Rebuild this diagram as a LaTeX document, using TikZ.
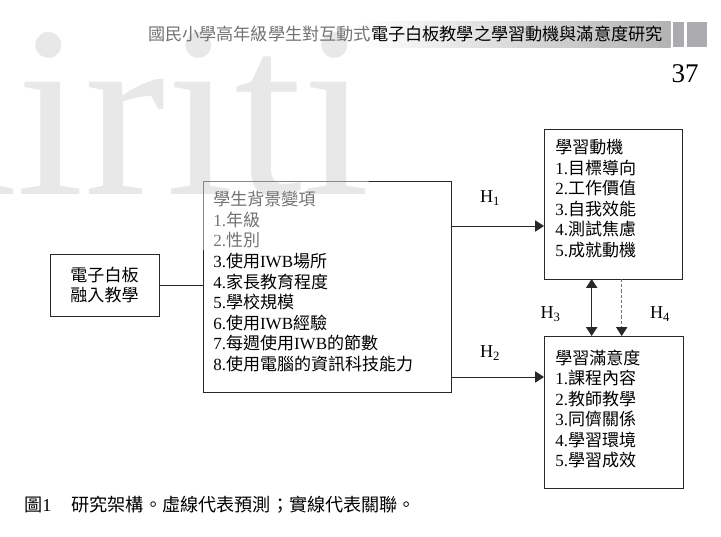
\documentclass[tikz,border=0pt]{standalone}
\usepackage{fontspec}
\setmainfont{Noto Sans CJK TC}
\newfontfamily\lat{Liberation Serif}
\usetikzlibrary{arrows.meta}
\definecolor{linegray}{RGB}{40,40,40}
\definecolor{dashgray}{RGB}{115,115,115}
\definecolor{bargray}{RGB}{172,172,176}
\definecolor{markgray}{RGB}{214,214,214}

\begin{document}
\begin{tikzpicture}[
    x=0.025cm, y=-0.025cm,
    box/.style={rectangle, draw=linegray, line width=0.6pt, outer sep=0pt},
    boxtext/.style={anchor=north west, inner sep=0pt, align=left, font=\fontsize{12.1}{14.6}\selectfont},
    arrow/.style={-{Triangle[length=2.2mm, width=2.8mm]}, line width=0.6pt, draw=linegray},
    dblarrow/.style={{Triangle[length=2.2mm, width=2.8mm]}-{Triangle[length=2.2mm, width=2.8mm]}, line width=0.6pt, draw=linegray},
    hyp/.style={inner sep=0pt, font=\lat\fontsize{12.9}{14}\selectfont}
]
    \useasboundingbox (0,0) rectangle (721,537);

    % Watermark
    \begin{scope}
        \clip (0,0) rectangle (721,537);
        \node[anchor=base west, inner sep=0pt, text=markgray, font=\lat\fontsize{174}{174}\selectfont]
            (mark) at (-92,195) {airiti};
    \end{scope}

    % Running head and page number
    \shade[left color=white, right color=black!30] (360,21.7) rectangle (670.5,47.3);
    \fill[bargray] (672.7,21.7) rectangle (684,47.3);
    \fill[bargray] (686.7,21.7) rectangle (707.3,47.3);
    \node[anchor=east, inner sep=0pt, font=\fontsize{12.2}{14}\selectfont] (head) at (663,33.5)
        {國民小學高年級學生對互動式電子白板教學之學習動機與滿意度研究};
    \node[anchor=east, inner sep=0pt, font=\lat\fontsize{19.2}{22}\selectfont] (page) at (699,74) {37};

    % Boxes
    \node[box, minimum width=2.725cm, minimum height=1.55cm, align=center,
        font=\fontsize{12.1}{14.2}\selectfont] (iwb) at (104.5,285.5) {電子白板\\融入教學};

    \node[box, minimum width=6.2cm, minimum height=5.275cm] (bg) at (327,286.5) {};
    \node[boxtext] (bg_txt) at ([shift={(10,10.3)}]bg.north west) {學生背景變項\\
        {\lat 1.}年級\\
        {\lat 2.}性別\\
        {\lat 3.}使用{\lat IWB}場所\\
        {\lat 4.}家長教育程度\\
        {\lat 5.}學校規模\\
        {\lat 6.}使用{\lat IWB}經驗\\
        {\lat 7.}每週使用{\lat IWB}的節數\\
        {\lat 8.}使用電腦的資訊科技能力};

    \node[box, minimum width=3.45cm, minimum height=3.75cm] (mot) at (613,204) {};
    \node[boxtext] (mot_txt) at ([shift={(11,10.3)}]mot.north west) {學習動機\\
        {\lat 1.}目標導向\\
        {\lat 2.}工作價值\\
        {\lat 3.}自我效能\\
        {\lat 4.}測試焦慮\\
        {\lat 5.}成就動機};

    \node[box, minimum width=3.475cm, minimum height=3.8cm] (sat) at (613.5,412) {};
    \node[boxtext] (sat_txt) at ([shift={(11,13.3)}]sat.north west) {學習滿意度\\
        {\lat 1.}課程內容\\
        {\lat 2.}教師教學\\
        {\lat 3.}同儕關係\\
        {\lat 4.}學習環境\\
        {\lat 5.}學習成效};

    % Connectors
    \draw[line width=0.6pt, linegray] (iwb.east) -- (iwb.east -| bg.west);

    \coordinate (h1_end) at ([yshift=-0.55cm]mot.west);
    \draw[arrow] (bg.east |- h1_end) -- (h1_end)
        node[hyp, pos=0.42, yshift=0.7cm] (h1) {H\textsubscript{1}};

    \coordinate (h2_end) at ([yshift=0.875cm]sat.west);
    \draw[arrow] (bg.east |- h2_end) -- (h2_end)
        node[hyp, pos=0.42, yshift=0.6cm] (h2) {H\textsubscript{2}};

    \coordinate (h3_top) at ([xshift=-0.533cm]mot.south);
    \draw[dblarrow] (h3_top) -- (h3_top |- sat.north)
        node[hyp, midway, xshift=-1.025cm, yshift=-0.16cm] (h3) {H\textsubscript{3}};

    \coordinate (h4_top) at ([xshift=0.2175cm]mot.south);
    \draw[-{Triangle[length=2.2mm, width=2.8mm, color=linegray]}, line width=0.6pt, dashgray,
        dash pattern=on 2.2pt off 1.5pt] (h4_top) -- (h4_top |- sat.north)
        node[hyp, text=black, midway, xshift=0.96cm, yshift=-0.16cm] (h4) {H\textsubscript{4}};

    % Caption
    \node[anchor=west, inner sep=0pt, font=\fontsize{12.9}{15}\selectfont] (cap) at (24,505)
        {圖{\lat 1}\hspace{14.2pt}研究架構。虛線代表預測；實線代表關聯。};

    % Watermark veil
    \fill[white, opacity=0.45] (0,0) rectangle (369,250);
\end{tikzpicture}
\end{document}
